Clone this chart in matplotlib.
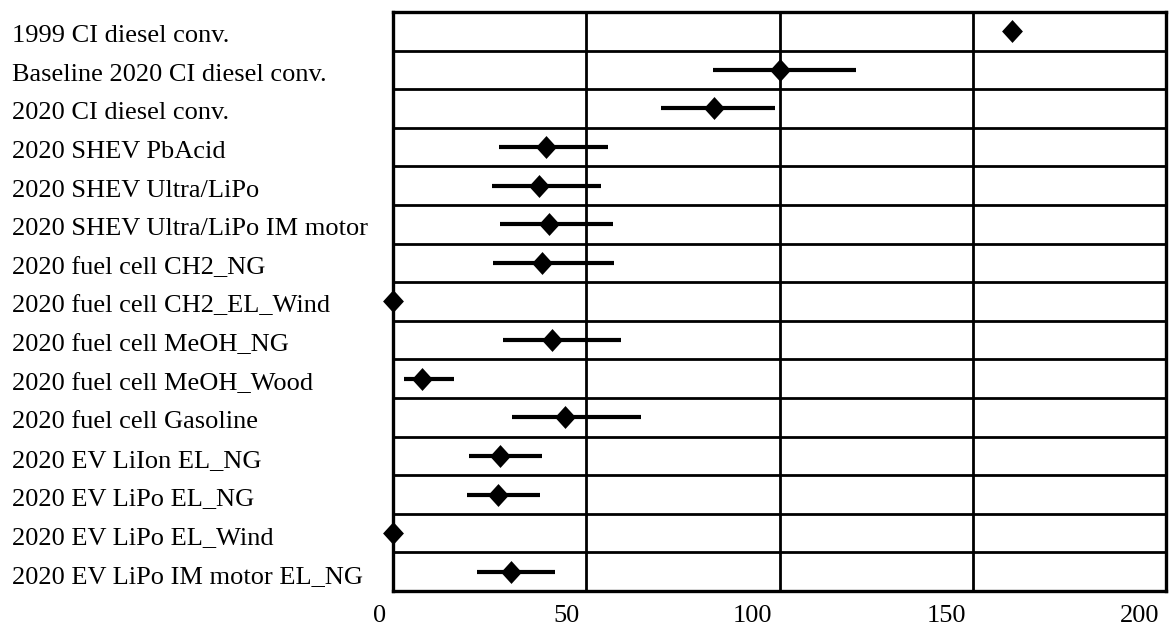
import numpy as np
import matplotlib.pyplot as plt
from matplotlib.transforms import ScaledTranslation, blended_transform_factory

labels = [
    "1999 CI diesel conv.",
    "Baseline 2020 CI diesel conv.",
    "2020 CI diesel conv.",
    "2020 SHEV PbAcid",
    "2020 SHEV Ultra/LiPo",
    "2020 SHEV Ultra/LiPo IM motor",
    "2020 fuel cell CH2_NG",
    "2020 fuel cell CH2_EL_Wind",
    "2020 fuel cell MeOH_NG",
    "2020 fuel cell MeOH_Wood",
    "2020 fuel cell Gasoline",
    "2020 EV LiIon EL_NG",
    "2020 EV LiPo EL_NG",
    "2020 EV LiPo EL_Wind",
    "2020 EV LiPo IM motor EL_NG",
]
values = [160.1, 100.0, 83.0, 39.5, 37.8, 40.4, 38.5, 0.0, 41.1, 7.5, 44.5, 27.7, 27.2, 0.0, 30.5]
low = [160.1, 82.7, 69.3, 27.5, 25.5, 27.7, 25.9, 0.0, 28.5, 2.9, 30.8, 19.7, 19.1, 0.0, 21.7]
high = [160.1, 119.9, 98.8, 55.7, 53.8, 57.0, 57.2, 0.0, 59.1, 15.8, 64.1, 38.5, 38.0, 0.0, 41.9]
xticks = [0, 50, 100, 150, 200]

plt.rcParams['font.family'] = ['Liberation Serif', 'DejaVu Serif']

fig = plt.figure(figsize=(11.72, 6.25), dpi=100)
ax = fig.add_axes([393 / 1172, 1 - 591 / 625, (1166 - 393) / 1172, (591 - 12) / 625])

n = len(labels)
y = np.arange(n)
vals = np.array(values)
err = [vals - np.array(low), np.array(high) - vals]

# row separators and vertical grid
for k in range(n - 1):
    ax.axhline(k + 0.5, color='black', lw=2.0, zorder=1)
for t in xticks[1:-1]:
    ax.axvline(t, color='black', lw=2.0, zorder=1)

ax.errorbar(vals, y, xerr=err, fmt='none', ecolor='black', elinewidth=3.0,
            capsize=0, zorder=3)
diamond = [(-0.91, 0), (0, 1), (0.91, 0), (0, -1), (-0.91, 0)]
ax.plot(vals, y, linestyle='none', marker=diamond, markersize=16.5, color='black',
        markeredgewidth=0, zorder=4, clip_on=False)

ax.set_xlim(0, 200)
ax.set_ylim(n - 0.5, -0.5)
ax.set_yticks([])
ax.set_xticks(xticks)
ax.set_xticklabels([str(t) for t in xticks], fontsize=19)
ax.tick_params(axis='x', length=0, pad=10)
off = ScaledTranslation(-7 / 100, 0, fig.dpi_scale_trans)
for lab in ax.get_xticklabels():
    lab.set_horizontalalignment('right')
    lab.set_transform(lab.get_transform() + off)

for s in ax.spines.values():
    s.set_linewidth(2.4)

# category labels, left aligned at the figure edge
trans = blended_transform_factory(fig.transFigure, ax.transData)
down = ScaledTranslation(0, -5 / 100, fig.dpi_scale_trans)
for yi, lab in zip(y, labels):
    fig.text(12 / 1172, yi, lab, transform=trans + down, fontsize=19,
             ha='left', va='center')

fig.savefig('out.png', dpi=100)
